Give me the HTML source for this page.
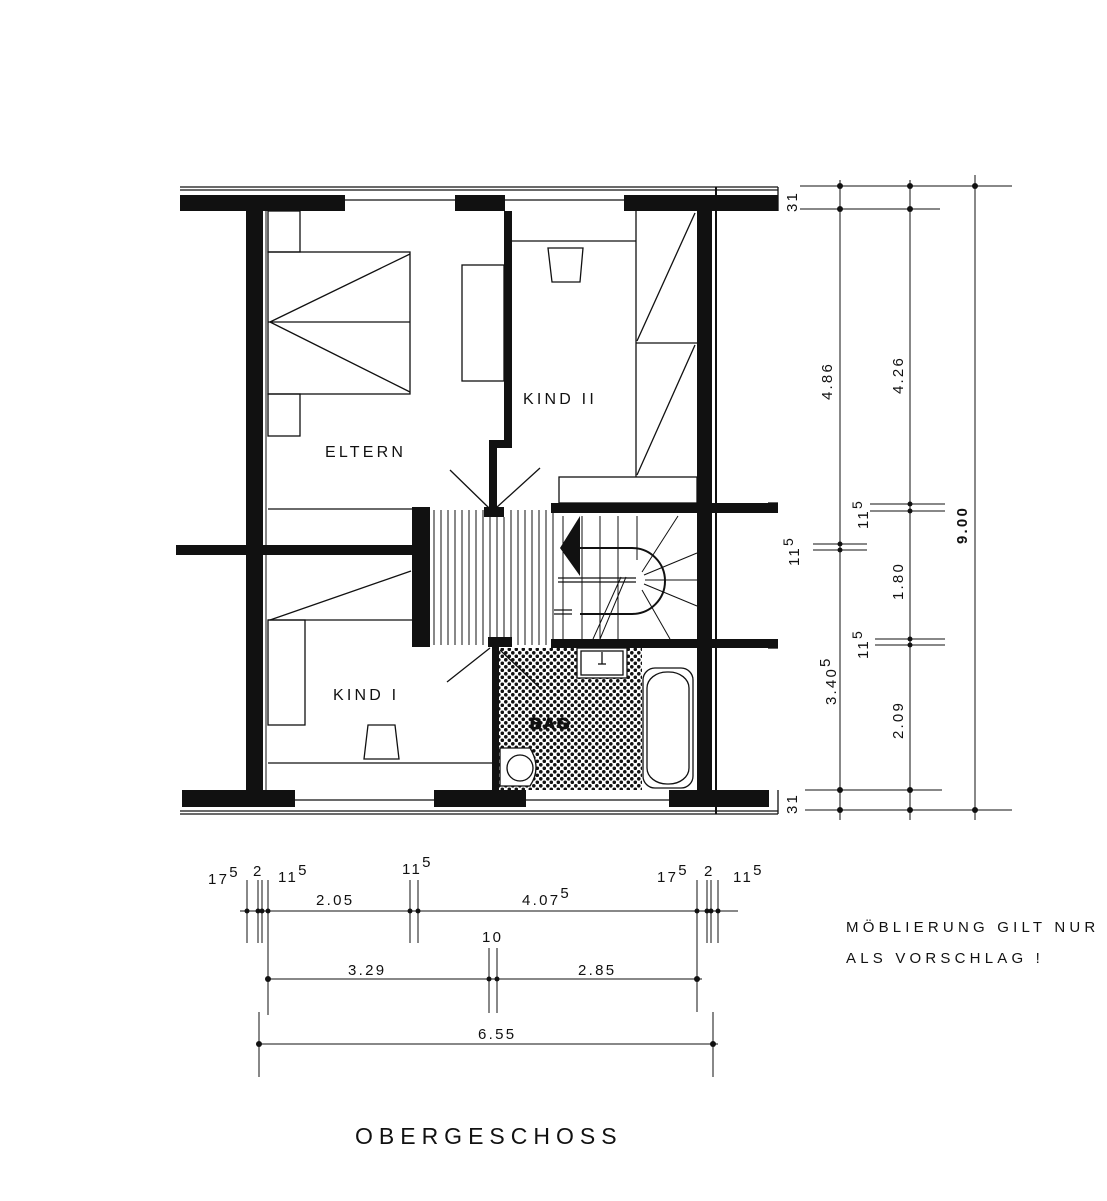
<!DOCTYPE html>
<html><head><meta charset="utf-8"><style>
html,body{margin:0;padding:0;background:#fff}
svg{display:block}
text{font-family:"Liberation Sans",sans-serif;fill:#111}
</style></head><body>
<svg width="1107" height="1201" viewBox="0 0 1107 1201" xmlns="http://www.w3.org/2000/svg">
<defs>
<pattern id="dots" width="7" height="7" patternUnits="userSpaceOnUse">
<circle cx="1.8" cy="1.8" r="1.8" fill="#111"/><circle cx="5.3" cy="5.3" r="1.8" fill="#111"/>
</pattern>
</defs>
<g fill="#111" stroke="none">
<rect x="180" y="195" width="165" height="16"/>
<rect x="455" y="195" width="50" height="16"/>
<rect x="624" y="195" width="154" height="16"/>
<rect x="182" y="790" width="113" height="17"/>
<rect x="434" y="790" width="92" height="17"/>
<rect x="669" y="790" width="100" height="17"/>
<rect x="246" y="195" width="17" height="612"/>
<rect x="697" y="195" width="15" height="612"/>
<rect x="176" y="545" width="236" height="10"/>
<rect x="551" y="503" width="227" height="10"/>
<rect x="551" y="639" width="227" height="9"/>
<rect x="504" y="211" width="8" height="235"/>
<rect x="489" y="440" width="23" height="8"/>
<rect x="489" y="440" width="8" height="70"/>
<rect x="484" y="507" width="20" height="10"/>
<rect x="412" y="507" width="18" height="140"/>
<rect x="488" y="637" width="24" height="10"/>
<rect x="492" y="645" width="7" height="145"/>
<polygon points="580,516 580,576 560,548"/>
</g>
<g stroke="#111" fill="none" stroke-width="1.3">
<line x1="180" y1="187" x2="778" y2="187"/>
<line x1="180" y1="190" x2="778" y2="190"/>
<line x1="345" y1="200" x2="455" y2="200"/><line x1="505" y1="200" x2="624" y2="200"/>
<line x1="180" y1="811" x2="778" y2="811"/>
<line x1="180" y1="814" x2="778" y2="814"/>
<line x1="295" y1="800" x2="434" y2="800"/><line x1="526" y1="800" x2="669" y2="800"/>
<line x1="266" y1="211" x2="266" y2="790" stroke-width="1"/>
<line x1="716" y1="187" x2="716" y2="814" stroke-width="2"/>
<line x1="778" y1="187" x2="778" y2="211"/><line x1="778" y1="790" x2="778" y2="814"/>
<line x1="768" y1="503" x2="778" y2="503"/><line x1="768" y1="648" x2="778" y2="648"/>
<rect x="268" y="211" width="32" height="41"/>
<rect x="268" y="252" width="142" height="142"/>
<line x1="268" y1="322" x2="410" y2="322"/>
<line x1="270" y1="322" x2="410" y2="254"/><line x1="270" y1="322" x2="410" y2="392"/>
<rect x="268" y="394" width="32" height="42"/>
<rect x="462" y="265" width="42" height="116"/>
<line x1="268" y1="509" x2="412" y2="509"/>
<line x1="512" y1="241" x2="636" y2="241"/>
<path d="M548,248 L583,248 L580,282 L552,282 Z"/>
<line x1="636" y1="211" x2="636" y2="477"/>
<line x1="636" y1="343" x2="697" y2="343"/>
<line x1="637" y1="341" x2="695" y2="213"/><line x1="637" y1="475" x2="695" y2="345"/>
<rect x="559" y="477" width="138" height="26"/>
<line x1="489" y1="508" x2="450" y2="470"/><line x1="496" y1="508" x2="540" y2="468"/>
<line x1="490" y1="648" x2="447" y2="682"/><line x1="500" y1="650" x2="540" y2="688"/>
<line x1="268" y1="620" x2="412" y2="620"/>
<line x1="270" y1="620" x2="411" y2="571"/>
<rect x="268" y="620" width="37" height="105"/>
<path d="M368,725 L395,725 L399,759 L364,759 Z"/>
<line x1="268" y1="763" x2="492" y2="763"/>
<g stroke-width="1">
<line x1="434" y1="510" x2="434" y2="645"/><line x1="441" y1="510" x2="441" y2="645"/>
<line x1="448" y1="510" x2="448" y2="645"/><line x1="455" y1="510" x2="455" y2="645"/>
<line x1="462" y1="510" x2="462" y2="645"/><line x1="469" y1="510" x2="469" y2="645"/>
<line x1="476" y1="510" x2="476" y2="645"/><line x1="483" y1="510" x2="483" y2="645"/>
<line x1="490" y1="517" x2="490" y2="637"/><line x1="497" y1="517" x2="497" y2="637"/>
<line x1="504" y1="517" x2="504" y2="637"/><line x1="511" y1="510" x2="511" y2="645"/>
<line x1="518" y1="510" x2="518" y2="645"/><line x1="525" y1="510" x2="525" y2="645"/>
<line x1="532" y1="510" x2="532" y2="645"/><line x1="539" y1="510" x2="539" y2="645"/>
<line x1="546" y1="510" x2="546" y2="645"/><line x1="553" y1="510" x2="553" y2="645"/>
<line x1="563" y1="516" x2="563" y2="639"/><line x1="582" y1="516" x2="582" y2="639"/>
<line x1="600" y1="516" x2="600" y2="639"/><line x1="618" y1="516" x2="618" y2="639"/>
<line x1="637" y1="516" x2="637" y2="560"/>
<line x1="642" y1="572" x2="678" y2="516"/><line x1="644" y1="575" x2="697" y2="553"/>
<line x1="645" y1="580" x2="697" y2="580"/><line x1="644" y1="584" x2="697" y2="606"/>
<line x1="642" y1="590" x2="670" y2="639"/>
<line x1="600" y1="639" x2="626" y2="577"/><line x1="593" y1="639" x2="621" y2="577"/>
</g>
<path d="M580,548 L632,548 A33,33 0 0 1 632,614 L580,614" stroke-width="2"/>
<line x1="558" y1="578" x2="636" y2="578"/>
<line x1="558" y1="582" x2="636" y2="582"/>
<line x1="554" y1="610" x2="572" y2="610"/><line x1="554" y1="614" x2="572" y2="614"/>
</g>
<rect x="499" y="648" width="143" height="142" fill="url(#dots)"/>
<rect x="642" y="648" width="55" height="142" fill="#fff"/>
<g stroke="#111" fill="#fff" stroke-width="1.3">
<rect x="577" y="648" width="50" height="30"/><rect x="581" y="651" width="42" height="24"/>
<line x1="602" y1="652" x2="602" y2="664"/><line x1="598" y1="664" x2="606" y2="664"/>
<rect x="643" y="668" width="50" height="120" rx="12"/>
<rect x="647" y="672" width="42" height="112" rx="20" ry="16"/>
<path d="M500,748 L530,748 Q542,768 530,786 L500,786 Z"/>
<circle cx="520" cy="768" r="13"/>
</g>
<text x="530" y="729" font-size="16" font-weight="bold" letter-spacing="2" stroke="#111" stroke-width="1">BAG</text>
<g font-size="16" letter-spacing="3.2">
<text x="325" y="457">ELTERN</text>
<text x="523" y="404">KIND II</text>
<text x="333" y="700">KIND I</text>
</g>
<g stroke="#111" stroke-width="1" fill="none">
<line x1="840" y1="180" x2="840" y2="820"/><line x1="910" y1="180" x2="910" y2="820"/><line x1="975" y1="175" x2="975" y2="820"/>
<line x1="800" y1="186" x2="1012" y2="186"/><line x1="800" y1="209" x2="940" y2="209"/>
<line x1="813" y1="544" x2="867" y2="544"/><line x1="813" y1="550" x2="867" y2="550"/>
<line x1="870" y1="504" x2="945" y2="504"/><line x1="870" y1="511" x2="945" y2="511"/>
<line x1="875" y1="639" x2="945" y2="639"/><line x1="875" y1="645" x2="945" y2="645"/>
<line x1="805" y1="790" x2="942" y2="790"/><line x1="805" y1="810" x2="1012" y2="810"/>
</g>
<g fill="#111">
<circle cx="840" cy="186" r="3"/><circle cx="910" cy="186" r="3"/><circle cx="975" cy="186" r="3"/>
<circle cx="840" cy="209" r="3"/><circle cx="910" cy="209" r="3"/>
<circle cx="840" cy="544" r="2.5"/><circle cx="840" cy="550" r="2.5"/>
<circle cx="910" cy="504" r="2.5"/><circle cx="910" cy="511" r="2.5"/>
<circle cx="910" cy="639" r="2.5"/><circle cx="910" cy="645" r="2.5"/>
<circle cx="840" cy="790" r="3"/><circle cx="910" cy="790" r="3"/>
<circle cx="840" cy="810" r="3"/><circle cx="910" cy="810" r="3"/><circle cx="975" cy="810" r="3"/>
</g>
<g font-size="15" letter-spacing="2.2">
<text transform="translate(797,212) rotate(-90)">31</text>
<text transform="translate(797,814) rotate(-90)">31</text>
<text transform="translate(832,400) rotate(-90)">4.86</text>
<text transform="translate(903,394) rotate(-90)">4.26</text>
<text transform="translate(799,566) rotate(-90)">11<tspan dy="-6" font-size="14">5</tspan></text>
<text transform="translate(868,529) rotate(-90)">11<tspan dy="-6" font-size="14">5</tspan></text>
<text transform="translate(868,659) rotate(-90)">11<tspan dy="-6" font-size="14">5</tspan></text>
<text transform="translate(903,600) rotate(-90)">1.80</text>
<text transform="translate(836,705) rotate(-90)">3.40<tspan dy="-6">5</tspan></text>
<text transform="translate(903,739) rotate(-90)">2.09</text>
<text transform="translate(967,544) rotate(-90)" font-weight="bold">9.00</text>
</g>
<g stroke="#111" stroke-width="1" fill="none">
<line x1="240" y1="911" x2="738" y2="911"/>
<line x1="247" y1="880" x2="247" y2="943"/><line x1="258" y1="880" x2="258" y2="943"/><line x1="262" y1="880" x2="262" y2="943"/>
<line x1="268" y1="880" x2="268" y2="1015"/>
<line x1="410" y1="880" x2="410" y2="943"/><line x1="418" y1="880" x2="418" y2="943"/>
<line x1="697" y1="880" x2="697" y2="1012"/><line x1="707" y1="880" x2="707" y2="943"/><line x1="711" y1="880" x2="711" y2="943"/><line x1="718" y1="880" x2="718" y2="943"/>
<line x1="268" y1="979" x2="702" y2="979"/>
<line x1="489" y1="948" x2="489" y2="1013"/><line x1="497" y1="948" x2="497" y2="1013"/>
<line x1="259" y1="1012" x2="259" y2="1077"/><line x1="713" y1="1012" x2="713" y2="1077"/>
<line x1="259" y1="1044" x2="718" y2="1044"/>
</g>
<g fill="#111">
<circle cx="247" cy="911" r="2.5"/><circle cx="258" cy="911" r="2.5"/><circle cx="262" cy="911" r="2.5"/><circle cx="268" cy="911" r="2.5"/>
<circle cx="410" cy="911" r="2.5"/><circle cx="418" cy="911" r="2.5"/>
<circle cx="697" cy="911" r="2.5"/><circle cx="707" cy="911" r="2.5"/><circle cx="711" cy="911" r="2.5"/><circle cx="718" cy="911" r="2.5"/>
<circle cx="268" cy="979" r="3"/><circle cx="489" cy="979" r="2.5"/><circle cx="497" cy="979" r="2.5"/><circle cx="697" cy="979" r="3"/>
<circle cx="259" cy="1044" r="3"/><circle cx="713" cy="1044" r="3"/>
</g>
<g font-size="15" letter-spacing="2.3">
<text x="208" y="884">17<tspan dy="-7">5</tspan></text>
<text x="253" y="876">2</text>
<text x="278" y="882">11<tspan dy="-7">5</tspan></text>
<text x="316" y="905">2.05</text>
<text x="402" y="874">11<tspan dy="-7">5</tspan></text>
<text x="522" y="905">4.07<tspan dy="-7">5</tspan></text>
<text x="657" y="882">17<tspan dy="-7">5</tspan></text>
<text x="704" y="876">2</text>
<text x="733" y="882">11<tspan dy="-7">5</tspan></text>
<text x="482" y="942">10</text>
<text x="348" y="975">3.29</text>
<text x="578" y="975">2.85</text>
<text x="478" y="1039">6.55</text>
</g>
<g font-size="15" letter-spacing="4.2">
<text x="846" y="932">MÖBLIERUNG GILT NUR</text>
<text x="846" y="963">ALS VORSCHLAG !</text>
</g>
<text x="355" y="1144" font-size="23" letter-spacing="6">OBERGESCHOSS</text>
</svg>
</body></html>
